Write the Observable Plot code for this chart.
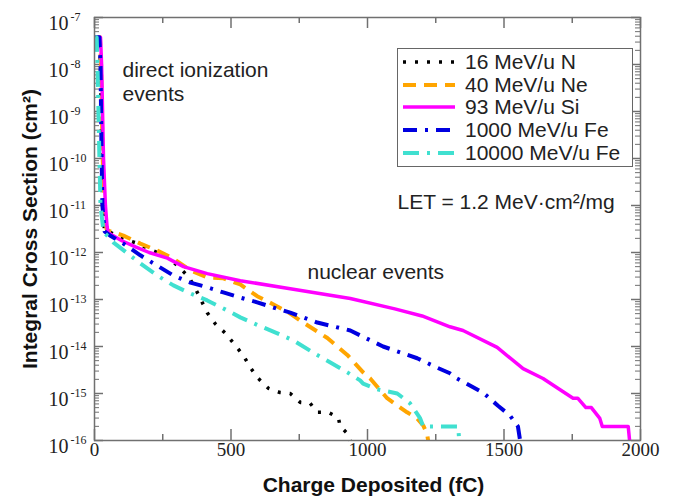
<!DOCTYPE html>
<html><head><meta charset="utf-8">
<script src="https://cdn.jsdelivr.net/npm/d3@7"></script>
<script src="https://cdn.jsdelivr.net/npm/@observablehq/plot@0.6"></script>
<style>
body{margin:0;background:#fff;}
#wrap{position:relative;width:675px;height:503px;}
#legend{position:absolute;left:397px;top:48px;}
</style></head><body><div id="wrap"></div>
<script>
// ---- data (x in fC, y as log10 of cross section in cm^2) ----
const seriesNames = ["16 MeV/u N", "40 MeV/u Ne", "93 MeV/u Si", "1000 MeV/u Fe", "10000 MeV/u Fe"];
const seriesColors = ["#000000", "#ffa500", "#ff00ff", "#0000e0", "#40e0d0"];
const seriesDash = ["3,9", "13,8", null, "14,8,3,8", "16,8,3,8"];
const seriesWidth = [3.5, 4, 3.5, 4, 4];

const nX = [3, 18, 22, 26, 29, 37, 51, 100, 150, 230, 271, 344, 370, 413, 443, 480, 516, 545, 571, 600, 637, 680, 717, 754, 790, 816, 856, 893, 900, 926, 937];
const nLog = [-7.42, -7.42, -8, -10, -11, -11.55, -11.55, -11.7, -11.79, -12.0, -12.1, -12.51, -12.77, -13.28, -13.52, -13.72, -13.98, -14.19, -14.45, -14.68, -14.89, -14.98, -15.0, -15.19, -15.21, -15.40, -15.40, -15.51, -15.70, -15.85, -16];

const neX = [3, 20, 24, 30, 36, 44, 48, 106, 168, 230, 289, 351, 413, 472, 534, 596, 654, 717, 754, 853, 926, 984, 1010, 1057, 1072, 1120, 1145, 1182, 1204, 1218, 1222];
const neLog = [-7.42, -7.42, -8, -10, -11, -11.5, -11.53, -11.64, -11.81, -11.96, -12.13, -12.38, -12.53, -12.55, -12.68, -12.93, -13.1, -13.3, -13.45, -13.82, -14.18, -14.55, -14.68, -15.0, -15.1, -15.3, -15.4, -15.53, -15.68, -15.85, -16];

const siX = [3, 22, 26, 33, 40, 46, 50, 100, 150, 200, 267, 326, 413, 534, 717, 937, 1100, 1200, 1302, 1350, 1475, 1570, 1643, 1700, 1753, 1770, 1800, 1820, 1851, 1860, 1955, 1960];
const siLog = [-7.42, -7.42, -8, -10, -11, -11.45, -11.58, -11.75, -11.88, -12.0, -12.12, -12.3, -12.45, -12.6, -12.77, -12.98, -13.2, -13.35, -13.58, -13.66, -14.02, -14.47, -14.68, -14.9, -15.1, -15.1, -15.3, -15.3, -15.53, -15.7, -15.7, -16];

const fe1X = [3, 18, 22, 26, 29, 37, 60, 106, 168, 230, 289, 351, 413, 472, 534, 596, 655, 717, 816, 937, 1057, 1182, 1255, 1302, 1328, 1423, 1478, 1522, 1551, 1559];
const fe1Log = [-7.42, -7.42, -8, -10, -11, -11.55, -11.65, -11.81, -12.06, -12.28, -12.49, -12.64, -12.74, -12.85, -12.96, -13.06, -13.17, -13.28, -13.49, -13.66, -14.0, -14.25, -14.45, -14.57, -14.68, -14.98, -15.26, -15.47, -15.70, -16];

const fe10X = [3, 8, 11, 18, 22, 33, 40, 70, 121, 168, 230, 289, 351, 413, 472, 534, 600, 670, 728, 801, 864, 926, 973, 984, 1035, 1109, 1156, 1193, 1204, 1302, 1332, 1336];
const fe10Log = [-7.42, -7.42, -8, -10, -11, -11.55, -11.6, -11.79, -12.02, -12.23, -12.49, -12.70, -12.87, -13.02, -13.19, -13.38, -13.55, -13.72, -13.87, -14.13, -14.34, -14.55, -14.72, -14.79, -14.91, -15.0, -15.21, -15.53, -15.70, -15.70, -15.70, -16];

const xTicks = [0, 500, 1000, 1500, 2000];
const xMinorTicks = [250, 750, 1250, 1750];
const yDecades = [1e-16, 1e-15, 1e-14, 1e-13, 1e-12, 1e-11, 1e-10, 1e-9, 1e-8, 1e-7];

// ---- build table ----
const seriesX = [nX, neX, siX, fe1X, fe10X];
const seriesLog = [nLog, neLog, siLog, fe1Log, fe10Log];
const rows = seriesNames.map((name, i) => seriesX[i].map((x, j) => ({name, x, y: Math.pow(10, seriesLog[i][j])})));
const yMinor = [];
yDecades.slice(0, -1).forEach(d => { for (let k = 2; k <= 9; k++) yMinor.push(d * k); });

const frameW = 675 - 94 - 35, frameH = 503 - 17 - 63;
const axisColor = "#707070";
const serif = "Liberation Serif, Times New Roman, serif";
const sans = "Liberation Sans, Arial, Helvetica, sans-serif";

const marks = [
  // ticks (inward)
  Plot.tickX(xTicks, {x: d => d, insetTop: frameH - 11, stroke: axisColor, strokeWidth: 1.5}),
  Plot.tickX(xTicks, {x: d => d, insetBottom: frameH - 11, stroke: axisColor, strokeWidth: 1.5}),
  Plot.tickX(xMinorTicks, {x: d => d, insetTop: frameH - 6, stroke: axisColor, strokeWidth: 1.5}),
  Plot.tickX(xMinorTicks, {x: d => d, insetBottom: frameH - 6, stroke: axisColor, strokeWidth: 1.5}),
  Plot.tickY(yDecades, {y: d => d, insetRight: frameW - 9, stroke: axisColor, strokeWidth: 1.5}),
  Plot.tickY(yDecades, {y: d => d, insetLeft: frameW - 9, stroke: axisColor, strokeWidth: 1.5}),
  Plot.tickY(yMinor, {y: d => d, insetRight: frameW - 5, stroke: axisColor, strokeWidth: 1}),
  Plot.tickY(yMinor, {y: d => d, insetLeft: frameW - 5, stroke: axisColor, strokeWidth: 1}),
];
rows.forEach((data, i) => {
  marks.push(Plot.line(data, {x: "x", y: "y", stroke: seriesColors[i], strokeWidth: seriesWidth[i],
    strokeDasharray: seriesDash[i] || undefined, strokeLinecap: "butt", strokeLinejoin: "round"}));
});
marks.push(
  Plot.frame({stroke: axisColor, strokeWidth: 1.5}),
  // x tick labels
  Plot.text(xTicks, {x: d => d, frameAnchor: "bottom", dy: 15, text: d => String(d), fontFamily: serif, fontSize: 19, fill: "#222"}),
  // y tick labels 10^n
  Plot.text(yDecades, {y: d => d, frameAnchor: "left", dx: -46, dy: 5.6, textAnchor: "start", text: () => "10", fontFamily: serif, fontSize: 20, fill: "#222"}),
  Plot.text(yDecades, {y: d => d, frameAnchor: "left", dx: -24, dy: 0, textAnchor: "start", text: d => String(Math.round(Math.log10(d))), fontFamily: serif, fontSize: 12, letterSpacing: -0.5, fill: "#222"}),
  // axis labels
  Plot.text(["Charge Deposited (fC)"], {frameAnchor: "bottom", dx: 6, dy: 51.3, textAnchor: "middle", text: d => d, fontFamily: sans, fontWeight: "bold", fontSize: 21, fill: "#111"}),
  Plot.text(["Integral Cross Section (cm²)"], {frameAnchor: "left", dx: -64, rotate: -90, textAnchor: "middle", text: d => d, fontFamily: sans, fontWeight: "bold", fontSize: 21, fill: "#111"}),
  // annotations
  Plot.text(["direct ionization"], {frameAnchor: "top-left", dx: 28, dy: 44.6, textAnchor: "start", text: d => d, fontFamily: sans, fontSize: 21, fill: "#222"}),
  Plot.text(["events"], {frameAnchor: "top-left", dx: 28, dy: 68.6, textAnchor: "start", text: d => d, fontFamily: sans, fontSize: 21, fill: "#222"}),
  Plot.text(["nuclear events"], {frameAnchor: "top-left", dx: 213, dy: 246.6, textAnchor: "start", text: d => d, fontFamily: sans, fontSize: 21, fill: "#222"}),
  Plot.text(["LET = 1.2 MeV·cm²/mg"], {frameAnchor: "top-left", dx: 303, dy: 176.6, textAnchor: "start", text: d => d, fontFamily: sans, fontSize: 21, fill: "#222"})
);

const chart = Plot.plot({
  width: 675, height: 503,
  marginLeft: 94, marginRight: 35, marginTop: 17, marginBottom: 63,
  x: {domain: [0, 2000], axis: null},
  y: {type: "log", domain: [1e-16, 1e-7], axis: null},
  style: {background: "#fff", fontFamily: sans},
  marks
});
const wrap = document.getElementById("wrap");
wrap.append(chart);

// ---- legend ----
const lw = 236, lh = 119;
const leg = d3.create("svg").attr("id", "legend").attr("width", lw).attr("height", lh);
leg.append("rect").attr("x", 0.5).attr("y", 0.5).attr("width", lw - 1).attr("height", lh - 1)
  .attr("fill", "#fff").attr("stroke", "#666").attr("stroke-width", 1);
const rowBase = [21, 44, 66, 89, 112];
seriesNames.forEach((name, i) => {
  const y = rowBase[i] - 7;
  leg.append("line").attr("x1", 6).attr("x2", 58).attr("y1", y).attr("y2", y)
    .attr("stroke", seriesColors[i]).attr("stroke-width", seriesWidth[i])
    .attr("stroke-dasharray", seriesDash[i] || null);
  leg.append("text").attr("x", 68).attr("y", rowBase[i]).text(name)
    .attr("font-family", sans).attr("font-size", 21).attr("fill", "#222");
});
wrap.append(leg.node());
</script>
</body></html>
